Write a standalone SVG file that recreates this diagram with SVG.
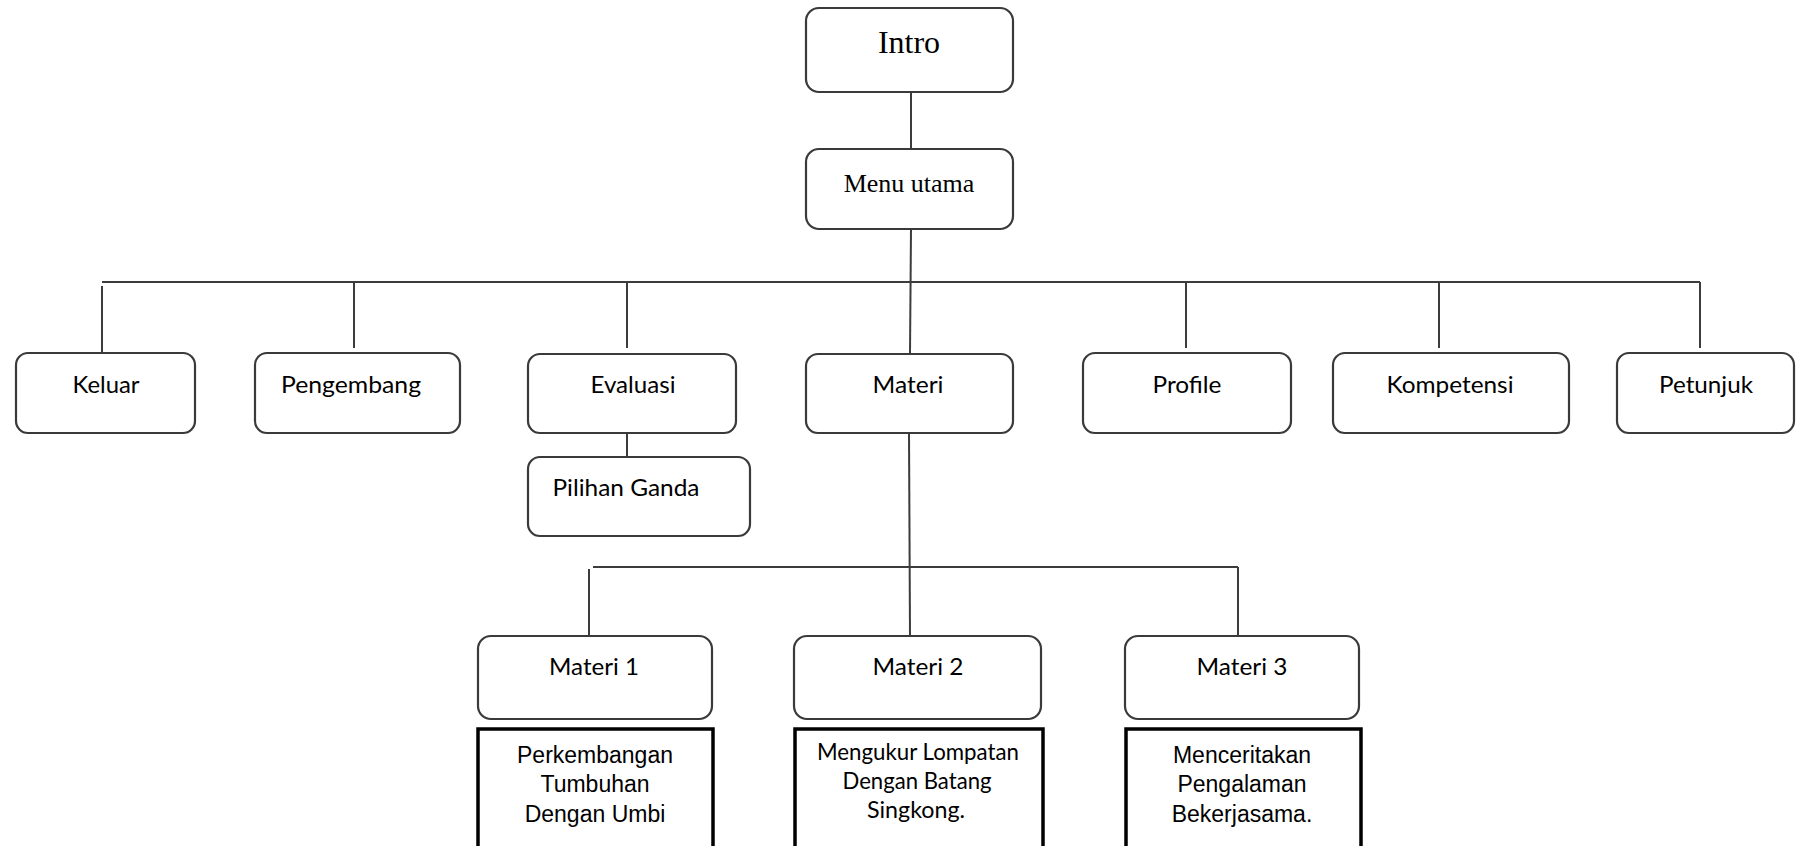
<svg xmlns="http://www.w3.org/2000/svg" width="1796" height="846" viewBox="0 0 1796 846">
<style>
.bg{fill:#ffffff}
.box{fill:#ffffff;stroke:#3a3a3a;stroke-width:2.2}
.dbox{fill:#ffffff;stroke:#000000;stroke-width:3.5}
.ln{stroke:#3c3c3c;stroke-width:2;fill:none}
.serif{font-family:"Liberation Serif","Times New Roman",serif;fill:#000;text-anchor:middle}
.cal{font-family:Lato,"Liberation Sans",sans-serif;font-size:24px;fill:#000;text-anchor:middle}
.ar{font-family:"Liberation Sans",Arial,sans-serif;font-size:23px;fill:#000;text-anchor:middle}
</style>
<rect class="bg" x="0" y="0" width="1796" height="846"/>
<g id="connectors">
<line class="ln" x1="911" y1="92" x2="911" y2="149"/>
<line class="ln" x1="911" y1="229" x2="910" y2="354"/>
<line class="ln" x1="102" y1="282" x2="1700" y2="282"/>
<line class="ln" x1="102" y1="286" x2="102" y2="353"/>
<line class="ln" x1="354" y1="282" x2="354" y2="348"/>
<line class="ln" x1="627" y1="282" x2="627" y2="348"/>
<line class="ln" x1="1186" y1="282" x2="1186" y2="348"/>
<line class="ln" x1="1439" y1="282" x2="1439" y2="348"/>
<line class="ln" x1="1700" y1="282" x2="1700" y2="348"/>
<line class="ln" x1="627" y1="433" x2="627" y2="457"/>
<line class="ln" x1="909" y1="433" x2="910" y2="636"/>
<line class="ln" x1="593" y1="567" x2="1238" y2="567"/>
<line class="ln" x1="589" y1="569" x2="589" y2="636"/>
<line class="ln" x1="1238" y1="567" x2="1238" y2="636"/>
</g>
<g id="intro"><rect class="box" x="806" y="8" width="207" height="84" rx="13"/><text class="serif" x="909" y="53" font-size="32">Intro</text></g>
<g id="menu-utama"><rect class="box" x="806" y="149" width="207" height="80" rx="13"/><text class="serif" x="909" y="192" font-size="26">Menu utama</text></g>
<g id="keluar"><rect class="box" x="16" y="353" width="179" height="80" rx="12"/><text class="cal" x="106" y="393" textLength="67" lengthAdjust="spacingAndGlyphs">Keluar</text></g>
<g id="pengembang"><rect class="box" x="255" y="353" width="205" height="80" rx="12"/><text class="cal" x="351" y="393" textLength="140" lengthAdjust="spacingAndGlyphs">Pengembang</text></g>
<g id="evaluasi"><rect class="box" x="528" y="354" width="208" height="79" rx="12"/><text class="cal" x="633" y="393" textLength="85" lengthAdjust="spacingAndGlyphs">Evaluasi</text></g>
<g id="pilihan-ganda"><rect class="box" x="528" y="457" width="222" height="79" rx="12"/><text class="cal" x="626" y="496" textLength="147" lengthAdjust="spacingAndGlyphs">Pilihan Ganda</text></g>
<g id="materi"><rect class="box" x="806" y="354" width="207" height="79" rx="12"/><text class="cal" x="908" y="393" textLength="71" lengthAdjust="spacingAndGlyphs">Materi</text></g>
<g id="profile"><rect class="box" x="1083" y="353" width="208" height="80" rx="12"/><text class="cal" x="1187" y="393" textLength="69" lengthAdjust="spacingAndGlyphs">Profile</text></g>
<g id="kompetensi"><rect class="box" x="1333" y="353" width="236" height="80" rx="12"/><text class="cal" x="1450" y="393" textLength="127" lengthAdjust="spacingAndGlyphs">Kompetensi</text></g>
<g id="petunjuk"><rect class="box" x="1617" y="353" width="177" height="80" rx="12"/><text class="cal" x="1706" y="393" textLength="94" lengthAdjust="spacingAndGlyphs">Petunjuk</text></g>
<g id="materi-1"><rect class="box" x="478" y="636" width="234" height="83" rx="13"/><text class="cal" x="594" y="675" textLength="90" lengthAdjust="spacingAndGlyphs">Materi 1</text></g>
<g id="materi-2"><rect class="box" x="794" y="636" width="247" height="83" rx="13"/><text class="cal" x="918" y="675" textLength="91" lengthAdjust="spacingAndGlyphs">Materi 2</text></g>
<g id="materi-3"><rect class="box" x="1125" y="636" width="234" height="83" rx="13"/><text class="cal" x="1242" y="675" textLength="91" lengthAdjust="spacingAndGlyphs">Materi 3</text></g>
<g id="desc-1"><rect class="dbox" x="478" y="729" width="235" height="140"/><text class="ar" x="595" y="763">Perkembangan</text><text class="ar" x="595" y="792">Tumbuhan</text><text class="ar" x="595" y="822">Dengan Umbi</text></g>
<g id="desc-2"><rect class="dbox" x="795" y="729" width="248" height="140"/><text class="cal" x="918" y="760" font-size="22" textLength="202" lengthAdjust="spacingAndGlyphs">Mengukur Lompatan</text><text class="cal" x="917" y="789" font-size="22" textLength="149" lengthAdjust="spacingAndGlyphs">Dengan Batang</text><text class="cal" x="916" y="818" font-size="22" textLength="98" lengthAdjust="spacingAndGlyphs">Singkong.</text></g>
<g id="desc-3"><rect class="dbox" x="1126" y="729" width="235" height="140"/><text class="ar" x="1242" y="763">Menceritakan</text><text class="ar" x="1242" y="792">Pengalaman</text><text class="ar" x="1242" y="822">Bekerjasama.</text></g>
</svg>
